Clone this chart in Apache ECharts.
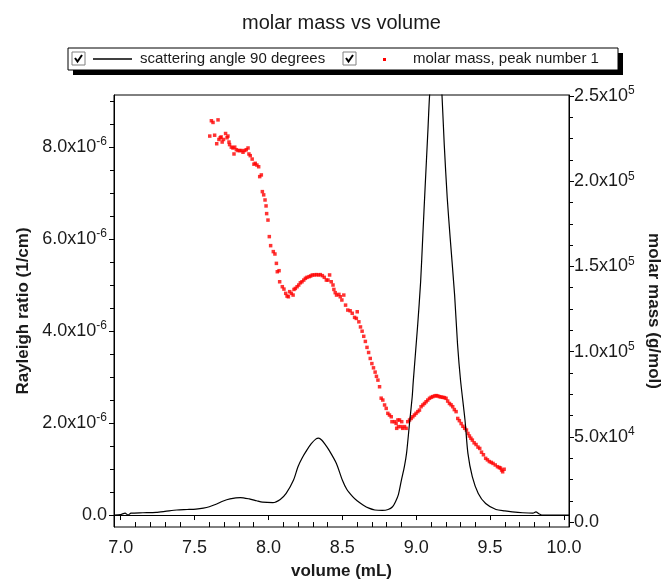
<!DOCTYPE html>
<html>
<head>
<meta charset="utf-8">
<script src="https://cdn.jsdelivr.net/npm/echarts@6/dist/echarts.min.js"></script>
<style>
  html, body { margin: 0; padding: 0; background: #fff; }
  #chart { width: 671px; height: 579px; }
</style>
</head>
<body>
<div id="chart"></div>
<script>
const FONT = '"Liberation Sans", Arial, sans-serif'
const INK = '#1a1a1a'

// scattering angle 90 degrees: volume (mL) and Rayleigh ratio (x1e-6 1/cm)
const lsVolume = [6.955, 7.00, 7.03, 7.05, 7.07, 7.15, 7.24, 7.30, 7.38, 7.45,
  7.51, 7.56, 7.60, 7.65, 7.69, 7.74, 7.81, 7.87, 7.92, 7.96,
  8.03, 8.08, 8.12, 8.17, 8.20, 8.23, 8.26, 8.29, 8.32, 8.34,
  8.36, 8.38, 8.41, 8.46, 8.50, 8.53, 8.57, 8.60, 8.64, 8.68,
  8.72, 8.77, 8.81, 8.84, 8.86, 8.88, 8.90, 8.92, 8.935, 8.955,
  8.973, 8.98, 9.01, 9.03, 9.045, 9.06, 9.08, 9.09, 9.11, 9.135,
  9.16, 9.175, 9.19, 9.21, 9.23, 9.26, 9.28, 9.30, 9.33, 9.35,
  9.38, 9.42, 9.47, 9.54, 9.60, 9.65, 9.72, 9.79, 9.81, 9.83,
  9.85, 10.034]
const lsRatio = [0.00, 0.01, 0.04, 0.00, 0.04, 0.05, 0.06, 0.08, 0.11, 0.12,
  0.13, 0.15, 0.18, 0.24, 0.30, 0.35, 0.38, 0.35, 0.31, 0.28,
  0.27, 0.34, 0.47, 0.76, 1.05, 1.25, 1.41, 1.55, 1.65, 1.67,
  1.63, 1.55, 1.41, 1.12, 0.76, 0.56, 0.40, 0.31, 0.22, 0.15,
  0.11, 0.10, 0.12, 0.18, 0.29, 0.45, 0.76, 1.05, 1.35, 2.00,
  2.57, 2.90, 4.13, 5.07, 6.09, 7.10, 8.41, 9.09, 9.90, 10.30,
  9.90, 9.09, 8.04, 6.89, 6.02, 4.78, 3.70, 2.93, 2.07, 1.34,
  0.83, 0.47, 0.25, 0.12, 0.09, 0.07, 0.05, 0.04, 0.07, 0.03,
  0.00, 0.00]

// molar mass, peak number 1: volume (mL) and molar mass (x1e4 g/mol)
const mmVolume = [7.603, 7.614, 7.625, 7.636, 7.650, 7.659, 7.665, 7.674, 7.680, 7.687,
  7.696, 7.710, 7.720, 7.726, 7.733, 7.737, 7.749, 7.760, 7.767, 7.772,
  7.783, 7.794, 7.806, 7.817, 7.828, 7.839, 7.850, 7.862, 7.868, 7.877,
  7.890, 7.902, 7.911, 7.922, 7.934, 7.941, 7.952, 7.959, 7.968, 7.977,
  7.984, 7.988, 7.997, 8.006, 8.015, 8.033, 8.044, 8.054, 8.060, 8.072,
  8.076, 8.094, 8.105, 8.117, 8.126, 8.135, 8.144, 8.155, 8.167, 8.173,
  8.182, 8.194, 8.205, 8.216, 8.227, 8.239, 8.250, 8.261, 8.275, 8.286,
  8.297, 8.311, 8.324, 8.338, 8.351, 8.365, 8.378, 8.392, 8.403, 8.414,
  8.425, 8.437, 8.443, 8.452, 8.461, 8.477, 8.486, 8.497, 8.510, 8.522,
  8.537, 8.553, 8.567, 8.583, 8.595, 8.601, 8.612, 8.623, 8.634, 8.645,
  8.656, 8.667, 8.678, 8.689, 8.700, 8.711, 8.722, 8.731, 8.741, 8.752,
  8.763, 8.774, 8.786, 8.797, 8.808, 8.819, 8.831, 8.836, 8.853, 8.864,
  8.868, 8.876, 8.880, 8.887, 8.898, 8.902, 8.909, 8.921, 8.932, 8.943,
  8.955, 8.966, 8.977, 8.988, 8.999, 9.011, 9.022, 9.033, 9.045, 9.056,
  9.067, 9.078, 9.090, 9.101, 9.112, 9.124, 9.135, 9.146, 9.157, 9.168,
  9.180, 9.191, 9.202, 9.213, 9.225, 9.236, 9.247, 9.258, 9.270, 9.281,
  9.292, 9.304, 9.316, 9.328, 9.340, 9.350, 9.360, 9.370, 9.380, 9.392,
  9.405, 9.418, 9.430, 9.442, 9.455, 9.470, 9.482, 9.495, 9.508, 9.520,
  9.535, 9.550, 9.562, 9.570, 9.578, 9.585, 9.595]
const mmMass = [22.65, 23.55, 23.45, 22.70, 22.20, 23.60, 22.45, 22.55, 22.60, 22.30,
  22.45, 22.80, 22.55, 22.65, 22.30, 22.15, 22.00, 21.95, 21.60, 22.00,
  21.85, 21.80, 21.80, 21.80, 21.70, 21.80, 21.85, 21.95, 21.60, 21.50,
  21.30, 21.00, 21.05, 20.95, 20.85, 20.27, 20.37, 19.39, 19.20, 18.90,
  18.55, 18.10, 17.72, 16.75, 16.22, 15.87, 15.73, 15.18, 14.69, 14.75,
  14.10, 13.81, 13.67, 13.42, 13.26, 13.22, 13.52, 13.42, 13.32, 13.65,
  13.71, 13.81, 13.91, 14.04, 14.10, 14.20, 14.30, 14.36, 14.40, 14.44,
  14.50, 14.50, 14.52, 14.50, 14.52, 14.46, 14.36, 14.20, 14.20, 14.50,
  14.10, 13.91, 13.65, 13.46, 13.32, 13.36, 13.22, 13.03, 13.32, 12.73,
  12.44, 12.40, 12.25, 12.01, 11.95, 12.34, 11.75, 11.45, 11.20, 10.90,
  10.60, 10.25, 9.95, 9.60, 9.30, 9.05, 8.80, 8.55, 8.33, 7.94,
  7.27, 7.16, 6.87, 6.67, 6.38, 6.28, 6.18, 5.89, 5.89, 5.79,
  5.50, 5.99, 5.60, 5.99, 5.60, 5.89, 5.50, 5.60, 5.50, 5.89,
  5.99, 6.08, 6.18, 6.28, 6.38, 6.48, 6.57, 6.77, 6.87, 6.96,
  7.06, 7.16, 7.26, 7.32, 7.36, 7.40, 7.42, 7.40, 7.36, 7.34,
  7.32, 7.30, 7.26, 7.10, 6.96, 6.88, 6.77, 6.60, 6.48, 6.08,
  5.95, 5.78, 5.62, 5.50, 5.40, 5.20, 5.05, 4.92, 4.81, 4.65,
  4.55, 4.40, 4.32, 4.10, 3.95, 3.74, 3.65, 3.55, 3.50, 3.44,
  3.35, 3.25, 3.20, 3.17, 3.05, 2.95, 3.10]

// tick positions
const xMajor = [7.0, 7.5, 8.0, 8.5, 9.0, 9.5, 10.0]
const xMinor = [7.1, 7.2, 7.3, 7.4, 7.6, 7.7, 7.8, 7.9, 8.1, 8.2, 8.3, 8.4,
  8.6, 8.7, 8.8, 8.9, 9.1, 9.2, 9.3, 9.4, 9.6, 9.7, 9.8, 9.9]
const leftMajor = [0, 2, 4, 6, 8]
const leftMinor = [0.5, 1, 1.5, 2.5, 3, 3.5, 4.5, 5, 5.5, 6.5, 7, 7.5, 8.5, 9]
const rightMajor = [0, 5, 10, 15, 20, 25]
const rightMinor = [1.25, 2.5, 3.75, 6.25, 7.5, 8.75, 11.25, 12.5, 13.75,
  16.25, 17.5, 18.75, 21.25, 22.5, 23.75]

const X_MIN = 6.955, X_MAX = 10.034
const L_MIN = -0.26, L_MAX = 9.13
const R_MIN = -0.29, R_MAX = 25.06

const rich = {
  m: { fontFamily: FONT, fontSize: 18, color: INK },
  e: { fontFamily: FONT, fontSize: 12, color: INK, padding: [0, 0, 10, 0] }
}

function leftLabel(v) {
  if (v === 0) return '{m|0.0}'
  return '{m|' + v.toFixed(1) + 'x10}{e|-6}'
}
function rightLabel(v) {
  if (v === 0) return '{m|0.0}'
  if (v < 10) return '{m|' + v.toFixed(1) + 'x10}{e|4}'
  return '{m|' + (v / 10).toFixed(1) + 'x10}{e|5}'
}

const axisLine = { show: true, lineStyle: { color: '#000', width: 1 } }
const nameStyle = { fontFamily: FONT, fontSize: 17, fontWeight: 'bold', color: INK }

const lineData = lsVolume.map((v, i) => [v, lsRatio[i]])
const massData = mmVolume.map((v, i) => [v, mmMass[i]])

function checkbox(x, y) {
  return [
    { type: 'rect', shape: { x: x, y: y, width: 13, height: 13 },
      style: { fill: '#fff', stroke: '#808080', lineWidth: 1 } },
    { type: 'polyline', shape: { points: [[x + 3, y + 6], [x + 5.5, y + 9.5], [x + 10, y + 3]] },
      style: { stroke: '#000', lineWidth: 2, fill: null } }
  ]
}

const chart = echarts.init(document.getElementById('chart'))
chart.setOption({
  animation: false,
  title: {
    text: 'molar mass vs volume',
    left: 237,
    top: 8,
    textStyle: { fontFamily: FONT, fontSize: 20, fontWeight: 'normal', color: INK }
  },
  grid: {
    left: 114, right: 102, top: 95, bottom: 52,
    show: true, borderColor: '#000', borderWidth: 1,
    containLabel: false,
    outerBoundsMode: 'none'
  },
  xAxis: [
    {
      type: 'value', min: X_MIN, max: X_MAX, position: 'bottom',
      axisLine: axisLine, splitLine: { show: false },
      axisTick: { show: true, inside: false, length: 5, lineStyle: { color: '#000' }, customValues: xMajor },
      axisLabel: { customValues: xMajor, formatter: v => v.toFixed(1), fontFamily: FONT, fontSize: 18, color: INK, margin: 12 },
      name: 'volume (mL)', nameLocation: 'middle', nameGap: 36, nameTextStyle: nameStyle
    },
    {
      type: 'value', min: X_MIN, max: X_MAX, position: 'bottom',
      axisLine: { show: false }, splitLine: { show: false }, axisLabel: { show: false },
      axisTick: { show: true, inside: false, length: 5, lineStyle: { color: '#000' }, customValues: xMinor }
    }
  ],
  yAxis: [
    {
      type: 'value', min: L_MIN, max: L_MAX, position: 'left',
      axisLine: axisLine, splitLine: { show: false },
      axisTick: { show: true, inside: false, length: 5, lineStyle: { color: '#000' }, customValues: leftMajor },
      axisLabel: { customValues: leftMajor, formatter: leftLabel, rich: rich, margin: 7 },
      name: 'Rayleigh ratio (1/cm)', nameLocation: 'middle', nameGap: 74, nameTextStyle: nameStyle
    },
    {
      type: 'value', min: R_MIN, max: R_MAX, position: 'right',
      axisLine: axisLine, splitLine: { show: false },
      axisTick: { show: true, inside: false, length: 5, lineStyle: { color: '#000' }, customValues: rightMajor },
      axisLabel: { customValues: rightMajor, formatter: rightLabel, rich: rich, margin: 5 },
      name: 'molar mass (g/mol)', nameLocation: 'middle', nameRotate: -90, nameGap: 74, nameTextStyle: nameStyle
    },
    {
      type: 'value', min: L_MIN, max: L_MAX, position: 'left',
      axisLine: { show: false }, splitLine: { show: false }, axisLabel: { show: false },
      axisTick: { show: true, inside: false, length: 4, lineStyle: { color: '#000' }, customValues: leftMinor }
    },
    {
      type: 'value', min: R_MIN, max: R_MAX, position: 'right',
      axisLine: { show: false }, splitLine: { show: false }, axisLabel: { show: false },
      axisTick: { show: true, inside: false, length: 4, lineStyle: { color: '#000' }, customValues: rightMinor }
    }
  ],
  series: [
    {
      name: 'scattering angle 90 degrees',
      type: 'line', xAxisIndex: 0, yAxisIndex: 0,
      data: lineData, showSymbol: false, smooth: 0.25, clip: true,
      lineStyle: { color: '#000', width: 1.2 }
    },
    {
      name: 'molar mass, peak number 1',
      type: 'scatter', xAxisIndex: 0, yAxisIndex: 1,
      data: massData, symbol: 'rect', symbolSize: 3.5,
      itemStyle: { color: '#ff0000' }
    }
  ],
  graphic: [
    { type: 'rect', shape: { x: 73, y: 53, width: 550, height: 22 }, style: { fill: '#000' } },
    { type: 'rect', shape: { x: 68, y: 48, width: 550, height: 22 }, style: { fill: '#fff', stroke: '#000', lineWidth: 1 } },
    ...checkbox(72, 52),
    { type: 'line', shape: { x1: 93, y1: 59, x2: 132, y2: 59 }, style: { stroke: '#000', lineWidth: 1.3 } },
    { type: 'text', x: 140, y: 59, style: { text: 'scattering angle 90 degrees', font: '15px ' + FONT, fill: INK, verticalAlign: 'middle' } },
    ...checkbox(343, 52),
    { type: 'rect', shape: { x: 383, y: 58, width: 3, height: 3 }, style: { fill: '#ff0000' } },
    { type: 'text', x: 413, y: 59, style: { text: 'molar mass, peak number 1', font: '15px ' + FONT, fill: INK, verticalAlign: 'middle' } }
  ]
})
</script>
</body>
</html>
